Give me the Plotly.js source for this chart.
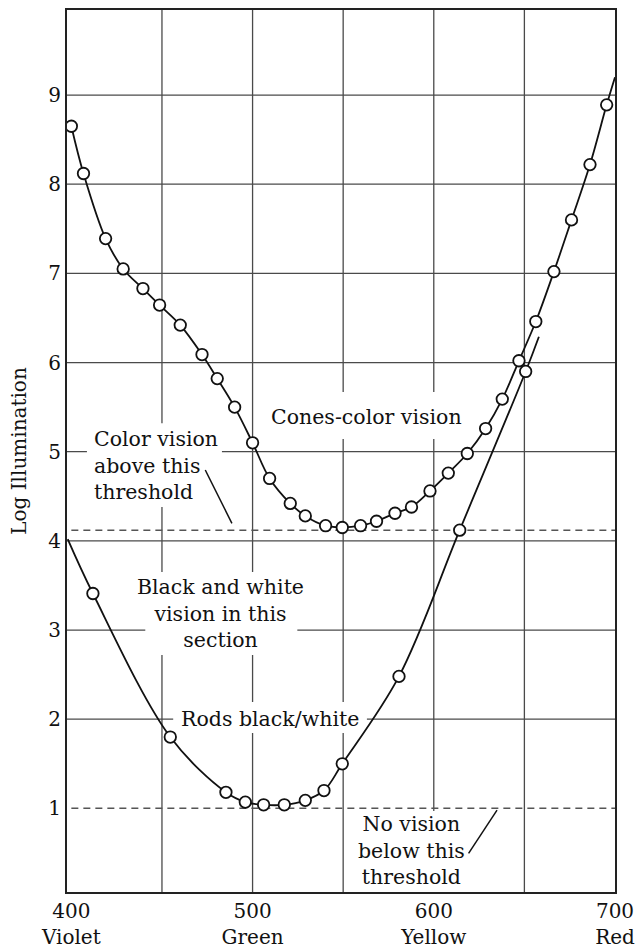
<!DOCTYPE html>
<html>
<head>
<meta charset="utf-8">
<script src="https://cdn.plot.ly/plotly-3.0.1.min.js"></script>
<style>html,body{margin:0;padding:0;background:#fff;}#chart{width:637px;height:948px;}</style>
</head>
<body>
<div id="chart"></div>
<script>
// ---- data ----
const conesWl  = [400, 406.7, 418.9, 428.6, 439.5, 448.7, 460.1, 472.1, 480.5, 490.1, 500, 509.4, 520.8, 529.1, 540.3, 549.5, 559.6, 568.4, 578.6, 587.7, 597.9, 608, 618.5, 628.6, 637.8, 647, 656.3, 666.3, 676, 686.2, 695.4];
const conesLog = [8.65, 8.12, 7.39, 7.05, 6.83, 6.645, 6.42, 6.09, 5.82, 5.50, 5.10, 4.70, 4.42, 4.28, 4.17, 4.15, 4.17, 4.22, 4.31, 4.38, 4.56, 4.76, 4.98, 5.26, 5.59, 6.02, 6.46, 7.02, 7.60, 8.22, 8.89];
const conesTailWl  = [700];
const conesTailLog = [9.2];

const rodsWl  = [411.9, 454.6, 485.3, 496, 506.1, 517.5, 529.1, 539.4, 549.5, 580.8, 614.3, 650.7];
const rodsLog = [3.41, 1.80, 1.18, 1.07, 1.04, 1.04, 1.09, 1.20, 1.50, 2.48, 4.12, 5.90];
const rodsHeadWl  = [398];
const rodsHeadLog = [4.02];
const rodsTailWl  = [658];
const rodsTailLog = [6.29];

const thresholdLog = [4.12, 1.0];   // colour-vision threshold, no-vision threshold
const xTickVals = [400, 450, 500, 550, 600, 650, 700];
const xTickText = ['400<br>Violet', '', '500<br>Green', '', '600<br>Yellow', '', '700<br>Red'];
const yTickVals = [1, 2, 3, 4, 5, 6, 7, 8, 9];
const yTickText = ['1', '2', '3', '4', '5', '6', '7', '8', '9'];
const hGrid = [2, 3, 4, 5, 6, 7, 8, 9];
const vGrid = [450, 500, 550, 600, 650];

// ---- styling ----
const FONT = 'DejaVu Serif';
const INK = '#111';
const GRID = '#4a4a4a';

const traces = [
  { x: rodsHeadWl.concat(rodsWl, rodsTailWl), y: rodsHeadLog.concat(rodsLog, rodsTailLog),
    mode: 'lines', line: { color: INK, width: 1.8, shape: 'spline', smoothing: 1 }, hoverinfo: 'skip' },
  { x: conesWl.concat(conesTailWl), y: conesLog.concat(conesTailLog),
    mode: 'lines', line: { color: INK, width: 1.8, shape: 'spline', smoothing: 1 }, hoverinfo: 'skip' },
  { x: [400, 700], y: [thresholdLog[0], thresholdLog[0]], mode: 'lines',
    line: { color: '#555', width: 1.5, dash: '7px,5px' } },
  { x: [400, 700], y: [thresholdLog[1], thresholdLog[1]], mode: 'lines',
    line: { color: '#555', width: 1.5, dash: '7px,5px' } },
  { x: rodsWl, y: rodsLog, mode: 'markers',
    marker: { symbol: 'circle', size: 11.5, color: '#fff', line: { color: INK, width: 1.8 } } },
  { x: conesWl, y: conesLog, mode: 'markers',
    marker: { symbol: 'circle', size: 11.5, color: '#fff', line: { color: INK, width: 1.8 } } }
];

const shapes = [];
vGrid.forEach(v => shapes.push({ type: 'line', layer: 'below', xref: 'x', yref: 'paper', x0: v, x1: v, y0: 0, y1: 1, line: { color: GRID, width: 1.3 } }));
hGrid.forEach(h => shapes.push({ type: 'line', layer: 'below', xref: 'paper', yref: 'y', x0: 0, x1: 1, y0: h, y1: h, line: { color: GRID, width: 1.3 } }));
// white masks behind the labels (gridlines break around text)
[
  [408.6, 483.1, 4.38, 5.32],
  [440.8, 524.7, 2.72, 3.65],
  [456.2, 563.1, 1.845, 2.193],
  [505.4, 621.2, 5.142, 5.67],
  [556.7, 619.0, -0.5, 0.97]
].forEach(r => shapes.push({ type: 'rect', layer: 'below', xref: 'x', yref: 'y', x0: r[0], x1: r[1], y0: r[2], y1: r[3], fillcolor: '#fff', line: { width: 0 } }));
// leader lines
shapes.push({ type: 'line', layer: 'above', xref: 'x', yref: 'y', x0: 473.9, y0: 4.795, x1: 488.6, y1: 4.197, line: { color: INK, width: 1.5 } });
shapes.push({ type: 'line', layer: 'above', xref: 'x', yref: 'y', x0: 619.2, y0: 0.496, x1: 634.9, y1: 0.98, line: { color: INK, width: 1.5 } });

const annFont = { family: FONT, size: 20.5, color: INK };
const annotations = [
  { text: 'Color vision<br>above this<br>threshold', x: 411.4, y: 4.84, xanchor: 'left', yanchor: 'middle', align: 'left' },
  { text: 'Black and white<br>vision in this<br>section', x: 482.2, y: 3.19, xanchor: 'center', yanchor: 'middle', align: 'center' },
  { text: 'Rods black/white', x: 509.8, y: 2.0, xanchor: 'center', yanchor: 'middle' },
  { text: 'Cones-color vision', x: 563.1, y: 5.39, xanchor: 'center', yanchor: 'middle' },
  { text: 'No vision<br>below this<br>threshold', x: 587.9, y: 0.53, xanchor: 'center', yanchor: 'middle', align: 'center' }
].map(a => Object.assign({ xref: 'x', yref: 'y', showarrow: false, font: annFont }, a));

const layout = {
  width: 637, height: 948,
  margin: { l: 67, r: 22, t: 10, b: 56, pad: 0 },
  paper_bgcolor: '#fff', plot_bgcolor: '#fff',
  showlegend: false,
  font: { family: FONT, color: INK, size: 20 },
  xaxis: {
    range: [397.6, 700], tickmode: 'array', tickvals: xTickVals, ticktext: xTickText,
    showgrid: false, zeroline: false, showline: true, mirror: true, linecolor: '#222', linewidth: 2,
    ticks: '', tickfont: { family: FONT, size: 20, color: INK }, fixedrange: true
  },
  yaxis: {
    range: [0.062, 9.954], tickmode: 'array', tickvals: yTickVals, ticktext: yTickText,
    showgrid: false, zeroline: false, showline: true, mirror: true, linecolor: '#222', linewidth: 2,
    ticks: '', tickfont: { family: FONT, size: 20, color: INK }, fixedrange: true,
    title: { text: 'Log Illumination', font: { family: FONT, size: 20, color: INK }, standoff: 16 }
  },
  shapes: shapes,
  annotations: annotations
};

Plotly.newPlot('chart', traces, layout, { staticPlot: true, displayModeBar: false });
</script>
</body>
</html>
